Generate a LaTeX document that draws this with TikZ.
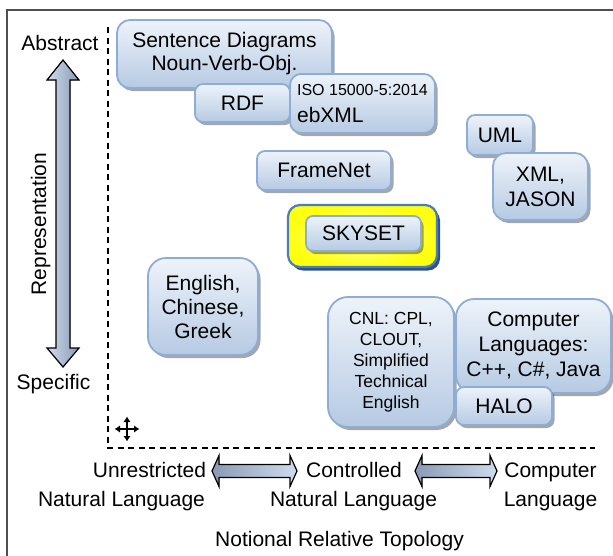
\documentclass[tikz,border=0pt]{standalone}
\usepackage{fontspec}
\setmainfont{Liberation Sans}
\usetikzlibrary{shadows,arrows.meta}
\definecolor{boxtop}{HTML}{EEF3FA}
\definecolor{boxbot}{HTML}{B6CAE3}
\definecolor{boxline}{HTML}{8EADD6}
\definecolor{frameline}{HTML}{505050}
\definecolor{skyline}{HTML}{4A7EBB}
\definecolor{skyshadow}{HTML}{2F5283}
\definecolor{skyin}{HTML}{FFFFB0}
\definecolor{skyout}{HTML}{FFFF10}
\definecolor{arrowlight}{HTML}{CFDCEE}
\definecolor{arrowdark}{HTML}{8A9AB4}
\tikzset{
  box/.style={draw=boxline, line width=1.8pt, top color=boxtop, bottom color=boxbot,
    inner sep=0pt, align=center, font=\fontsize{21}{24}\selectfont,
    drop shadow={shadow xshift=2.5pt, shadow yshift=-3pt, opacity=0.35, fill=black}},
  skybox/.style={draw=skyline, line width=2.2pt, shading=radial, inner color=skyin, outer color=skyout,
    inner sep=0pt, drop shadow={shadow xshift=3pt, shadow yshift=-3.5pt, opacity=1, fill=skyshadow}},
  lbl/.style={anchor=base, inner sep=0pt, font=\fontsize{21}{24}\selectfont},
  blockarrow/.style={draw=black, line width=1.2pt},
  axisline/.style={line width=1.4pt, dash pattern=on 6pt off 4.5pt},
}
\begin{document}
\begin{tikzpicture}[x=1pt, y=-1pt]
\useasboundingbox (0,0) rectangle (613,555);
\fill[white] (0,0) rectangle (613,555);
\draw[frameline, line width=2pt] (7,570) -- (7,10) -- (630,10);

% axes
\coordinate (axtop) at (108,27);
\coordinate (axcorner) at (108,448);
\coordinate (axright) at (595,448);
\draw[axisline] (axtop) -- (axcorner) -- (axright);

% vertical block arrow
\filldraw[blockarrow, left color=arrowlight, right color=arrowdark]
  (63,60) -- (79,80) -- (70,80) -- (70,348) -- (79,348) -- (63,367)
  -- (47,348) -- (56,348) -- (56,80) -- (47,80) -- cycle;

\node[lbl] (abstract) at (60,50.5) {Abstract};
\node[lbl] (specific) at (53.5,389.5) {Specific};
\node[lbl, rotate=90] (repr) at (46,224) {Representation};

% boxes
\node[box, minimum width=215pt, minimum height=68pt, rounded corners=13pt, font=\fontsize{21}{23}\selectfont]
  (sentence) at (224.5,54) {Sentence Diagrams\\Noun-Verb-Obj.};
\node[box, minimum width=95pt, minimum height=38pt, rounded corners=8pt] (rdf) at (242.5,103) {RDF};
\node[box, minimum width=145pt, minimum height=59pt, rounded corners=11pt, align=left]
  (iso) at (362.5,103.5) {{\fontsize{16}{18}\selectfont ISO 15000-5:2014}\\[3pt]ebXML};
\node[box, minimum width=134pt, minimum height=39pt, rounded corners=8pt] (framenet) at (324,170.5) {FrameNet};
\node[skybox, minimum width=149pt, minimum height=62pt, rounded corners=12pt] (skyouter) at (362.5,236) {};
\node[box, minimum width=115pt, minimum height=35pt, rounded corners=7pt] (skyset) at (363.5,233.5) {SKYSET};
\node[box, minimum width=66pt, minimum height=40pt, rounded corners=8pt] (uml) at (500,135) {UML};
\node[box, minimum width=95pt, minimum height=67pt, rounded corners=13pt, font=\fontsize{21}{25}\selectfont]
  (xml) at (540.5,186.5) {XML,\\JASON};
\node[box, minimum width=110pt, minimum height=97pt, rounded corners=18pt, font=\fontsize{21}{24}\selectfont]
  (english) at (203,306.5) {English,\\Chinese,\\Greek};
\node[box, minimum width=126pt, minimum height=130pt, rounded corners=20pt, font=\fontsize{17.5}{21}\selectfont]
  (cnl) at (391,362) {CNL: CPL,\\CLOUT,\\Simplified\\Technical\\English};
\node[box, minimum width=155pt, minimum height=94pt, rounded corners=18pt, font=\fontsize{21}{25}\selectfont]
  (complang) at (533.5,346) {Computer\\Languages:\\C++, C\#, Java};
\node[box, minimum width=96pt, minimum height=38pt, rounded corners=8pt] (halo) at (504,406) {HALO};

% move icon
\coordinate (mv) at (127,429);
\foreach \d in {0,90,180,270}
  \draw[line width=1.8pt, -{Latex[length=5.5pt,width=7.5pt]}] (mv) -- ++(\d:12.5);

% bottom labels
\node[lbl] (unres) at (149.5,477) {Unrestricted};
\node[lbl] (nl1) at (121.5,506) {Natural Language};
\node[lbl] (ctrl) at (354,477) {Controlled};
\node[lbl] (nl2) at (353.5,506) {Natural Language};
\node[lbl] (comp) at (550.5,477) {Computer};
\node[lbl] (lang) at (550.5,506) {Language};
\node[lbl] (topo) at (339.5,546) {Notional Relative Topology};

% horizontal block arrows
\filldraw[blockarrow, left color=arrowdark, right color=arrowlight]
  (212,471) -- (219,455.5) -- (219,464.5) -- (290,464.5) -- (290,455.5) -- (297,471)
  -- (290,486.5) -- (290,477.5) -- (219,477.5) -- (219,486.5) -- cycle;
\filldraw[blockarrow, left color=arrowdark, right color=arrowlight]
  (415,471) -- (422,455.5) -- (422,464.5) -- (490,464.5) -- (490,455.5) -- (497,471)
  -- (490,486.5) -- (490,477.5) -- (422,477.5) -- (422,486.5) -- cycle;
\end{tikzpicture}
\end{document}
